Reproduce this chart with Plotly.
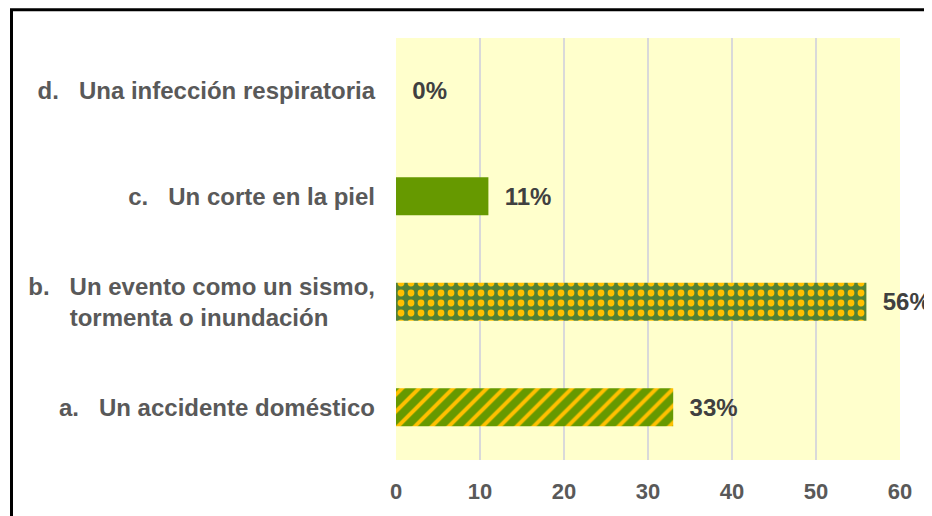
import plotly.graph_objects as go

categories = [
    "a.\u00a0\u00a0\u00a0Un accidente doméstico",
    "b.\u00a0\u00a0\u00a0Un evento como un sismo,<br>tormenta o inundación" + "\u00a0" * 7,
    "c.\u00a0\u00a0\u00a0Un corte en la piel",
    "d.\u00a0\u00a0\u00a0Una infección respiratoria",
]
values = [33, 56, 11, 0]
bar_color = "#669900"
pattern_bg = ["#669900", "#538135", "#669900", "#669900"]
pattern_fg = ["#FFC000", "#FFC000", "#669900", "#669900"]
pattern_shapes = ["/", ".", "", ""]
tick_vals = [0, 10, 20, 30, 40, 50, 60]

FONT = "Arial, Liberation Sans, sans-serif"

fig = go.Figure()
fig.add_trace(go.Bar(
    y=categories,
    x=values,
    orientation="h",
    width=0.36,
    marker=dict(
        color=bar_color,
        line=dict(width=0),
        pattern=dict(
            shape=pattern_shapes,
            fillmode="overlay",
            bgcolor=pattern_bg,
            fgcolor=pattern_fg,
            fgopacity=1,
            size=[12, 10, 8, 8],
            solidity=[0.33, 0.36, 0.3, 0.3],
        ),
    ),
    text=[f"\u00a0\u00a0{v}%" for v in values],
    textposition="outside",
    textfont=dict(family=FONT, size=24, color="#404040", weight="bold"),
    cliponaxis=False,
    constraintext="none",
    hoverinfo="skip",
))

# page body has an 8px margin; figure is offset accordingly
fig.update_layout(
    width=924,
    height=508,
    margin=dict(l=388, r=32, t=30, b=53),
    paper_bgcolor="white",
    plot_bgcolor="#FFFFCC",
    showlegend=False,
    font=dict(family=FONT, size=24, color="#595959", weight="bold"),
    xaxis=dict(
        range=[0, 60],
        tickvals=tick_vals,
        showgrid=True,
        gridcolor="#D9D9D9",
        gridwidth=2,
        zeroline=False,
        showline=False,
        ticks="",
        tickfont=dict(size=22, color="#595959", weight="bold"),
        ticklabelstandoff=16,
    ),
    yaxis=dict(
        showgrid=False,
        zeroline=False,
        showline=False,
        ticks="",
        tickfont=dict(size=24, color="#595959", weight="bold"),
        ticklabelstandoff=20,
    ),
    shapes=[dict(
        type="rect", xref="paper", yref="paper",
        x0=(11.5 - 396) / 504, x1=1.2,
        y0=-0.3, y1=1 + (38 - 9.5) / 425,
        line=dict(color="black", width=3),
        fillcolor="rgba(0,0,0,0)",
        layer="below",
    )],
)

fig.write_html("out.html")
